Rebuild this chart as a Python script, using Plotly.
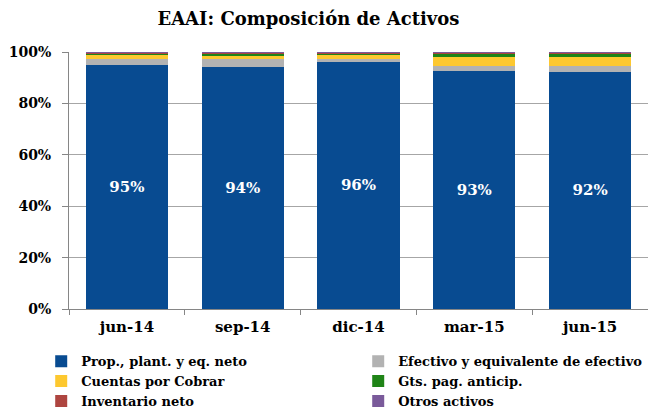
import plotly.graph_objects as go

categories = ["jun-14", "sep-14", "dic-14", "mar-15", "jun-15"]
series_names = ["Prop., plant. y eq. neto", "Efectivo y equivalente de efectivo",
                "Cuentas por Cobrar", "Gts. pag. anticip.", "Inventario neto", "Otros activos"]
prop = [95.0, 94.3, 96.2, 92.8, 92.4]
efectivo = [2.3, 3.0, 1.0, 1.9, 2.2]
cuentas = [1.8, 1.3, 1.8, 3.5, 3.6]
gts = [0.3, 0.8, 0.3, 1.4, 1.3]
inventario = [0.4, 0.4, 0.5, 0.3, 0.4]
otros = [0.2, 0.2, 0.2, 0.1, 0.1]
colors = ["#084B91", "#B2B2B2", "#FDC82F", "#1F8417", "#AE4540", "#7A5A9A"]

FONT = "DejaVu Serif"
values = [prop, efectivo, cuentas, gts, inventario, otros]

fig = go.Figure()
for i, (name, vals) in enumerate(zip(series_names, values)):
    kw = {}
    if i == 0:
        kw = dict(texttemplate="<b>%{y:.0f}%</b>", textposition="inside", insidetextanchor="middle",
                  textfont=dict(family=FONT, size=15, color="white"), textangle=0)
    fig.add_trace(go.Bar(x=categories, y=vals, name="<b>" + name + "</b>",
                         marker=dict(color=colors[i], line=dict(width=0)),
                         hoverinfo="skip", **kw))

fig.update_layout(
    barmode="stack",
    bargap=0.29,
    width=648, height=409,
    margin=dict(l=69, r=0, t=52, b=100, autoexpand=False),
    paper_bgcolor="white", plot_bgcolor="white",
    font=dict(family=FONT, size=14, color="black"),
    title=dict(text="<b>EAAI: Composición de Activos</b>", x=0.476, xanchor="center",
               y=0.955, yanchor="middle", font=dict(family=FONT, size=18, color="black")),
    legend=dict(orientation="h", x=-0.048, xanchor="left", y=-0.145, yanchor="top",
                entrywidth=272, entrywidthmode="pixels", traceorder="normal",
                font=dict(family=FONT, size=13, color="black"), itemwidth=30,
                tracegroupgap=0, itemclick=False, itemdoubleclick=False),
    showlegend=True,
)
fig.update_yaxes(range=[0, 100], dtick=20, ticksuffix="%</b>", showgrid=True, gridcolor="#A6A6A6", gridwidth=1,
                 showline=True, linecolor="#868686", linewidth=1, ticks="outside", ticklen=6,
                 tickcolor="#868686", tickfont=dict(family=FONT, size=14, color="black"),
                 tickprefix="<b>", ticklabelstandoff=8, zeroline=False)
fig.update_xaxes(showline=True, linecolor="#868686", linewidth=1, ticks="outside", ticklen=5,
                 tickcolor="#868686", tickson="boundaries", tickprefix="<b>", ticksuffix="</b>",
                 tickfont=dict(family=FONT, size=15, color="black"), ticklabelstandoff=4)

fig.write_html("out.html", config={"displayModeBar": False},
               post_script="document.body.style.margin='0';")
